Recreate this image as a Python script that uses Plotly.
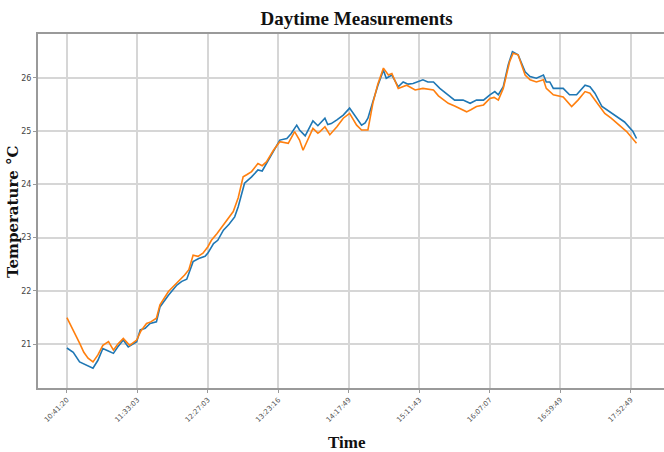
import plotly.graph_objects as go

# sample index (one sample every ~23 s; tick every 100 samples)
tick_idx = [0, 100, 200, 300, 400, 500, 600, 700, 800]
tick_labels = ["10:41:20", "11:33:03", "12:27:03", "13:23:16", "14:17:49",
               "15:11:43", "16:07:07", "16:59:49", "17:52:49"]
y_ticks = [21, 22, 23, 24, 25, 26]

blue_idx = [0, 9, 18, 28, 37, 44, 51, 58, 66, 72, 80, 87, 99, 104, 111, 118, 127, 132,
            144, 156, 163, 170, 179, 187, 196, 200, 208, 214, 222, 230, 238, 243, 252,
            262, 271, 277, 283, 293, 302, 312, 318, 326, 330, 338, 343, 349, 356, 359,
            366, 370, 375, 383, 392, 401, 411, 418, 423, 427, 434, 441, 449, 453, 461,
            470, 477, 484, 491, 498, 505, 512, 520, 529, 539, 550, 562, 572, 581, 591,
            600, 607, 612, 619, 626, 632, 640, 650, 657, 666, 676, 680, 685, 690, 704,
            713, 723, 735, 742, 749, 759, 770, 780, 791, 803, 808]
blue_val = [20.93, 20.85, 20.67, 20.60, 20.55, 20.70, 20.92, 20.88, 20.83, 20.95, 21.08,
            20.95, 21.05, 21.27, 21.30, 21.39, 21.42, 21.70, 21.92, 22.11, 22.18, 22.22,
            22.55, 22.61, 22.65, 22.71, 22.89, 22.95, 23.14, 23.25, 23.39, 23.58, 24.02,
            24.14, 24.27, 24.25, 24.39, 24.61, 24.83, 24.86, 24.95, 25.11, 25.02, 24.91,
            25.05, 25.19, 25.10, 25.14, 25.24, 25.12, 25.14, 25.21, 25.30, 25.43, 25.24,
            25.11, 25.15, 25.24, 25.55, 25.85, 26.14, 25.99, 26.05, 25.83, 25.92, 25.88,
            25.89, 25.92, 25.96, 25.92, 25.92, 25.80, 25.70, 25.58, 25.58, 25.52, 25.58,
            25.58, 25.68, 25.74, 25.68, 25.83, 26.24, 26.49, 26.43, 26.11, 26.02, 25.99,
            26.05, 25.92, 25.92, 25.80, 25.80, 25.68, 25.68, 25.86, 25.83, 25.71, 25.46,
            25.36, 25.27, 25.17, 24.99, 24.86]

orange_idx = [0, 9, 18, 24, 30, 37, 44, 51, 59, 66, 72, 80, 89, 99, 105, 113, 119, 127,
              132, 144, 158, 167, 173, 179, 186, 193, 200, 205, 213, 222, 228, 236, 243,
              250, 255, 262, 271, 277, 283, 293, 302, 308, 314, 323, 330, 335, 342, 349,
              356, 359, 366, 373, 383, 392, 401, 411, 418, 427, 434, 441, 449, 456, 461,
              470, 482, 494, 505, 520, 527, 541, 550, 557, 567, 573, 581, 591, 600, 606,
              612, 619, 628, 633, 640, 650, 657, 666, 676, 680, 690, 704, 716, 725, 735,
              742, 752, 763, 772, 783, 794, 808]
orange_val = [21.50, 21.27, 21.02, 20.85, 20.74, 20.67, 20.80, 20.98, 21.05, 20.89, 21.00,
              21.11, 20.98, 21.08, 21.25, 21.39, 21.42, 21.49, 21.74, 21.99, 22.17, 22.30,
              22.40, 22.67, 22.65, 22.71, 22.83, 22.95, 23.08, 23.24, 23.35, 23.49, 23.75,
              24.14, 24.18, 24.24, 24.39, 24.35, 24.42, 24.64, 24.80, 24.78, 24.77, 24.99,
              24.83, 24.64, 24.85, 25.05, 24.96, 24.99, 25.08, 24.93, 25.08, 25.24, 25.33,
              25.11, 25.02, 25.02, 25.52, 25.88, 26.18, 26.05, 26.08, 25.80, 25.86, 25.77,
              25.80, 25.77, 25.66, 25.52, 25.47, 25.43, 25.36, 25.40, 25.46, 25.49, 25.61,
              25.63, 25.58, 25.80, 26.30, 26.46, 26.43, 26.05, 25.96, 25.92, 25.96, 25.80,
              25.68, 25.64, 25.46, 25.58, 25.74, 25.71, 25.52, 25.33, 25.24, 25.11, 24.99,
              24.77]

fig = go.Figure()
fig.add_trace(go.Scatter(x=blue_idx, y=blue_val, mode="lines",
                         line=dict(color="#1f77b4", width=1.6), showlegend=False))
fig.add_trace(go.Scatter(x=orange_idx, y=orange_val, mode="lines",
                         line=dict(color="#ff7f0e", width=1.6), showlegend=False))

axis_common = dict(showline=True, linecolor="#9a9a9a", linewidth=2, mirror=True,
                   showgrid=True, gridcolor="#d6d6d6", gridwidth=1.5,
                   ticks="outside", ticklen=3, tickcolor="#9a9a9a", zeroline=False,
                   automargin=False)

fig.update_layout(
    width=664, height=452,
    margin=dict(l=38, r=0, t=34, b=64),
    paper_bgcolor="white", plot_bgcolor="white",
    title=dict(text="<b>Daytime Measurements</b>", x=0.537, xanchor="center",
               y=0.960, yanchor="middle", automargin=False,
               font=dict(family="Liberation Serif", size=19, color="#111")),
    xaxis=dict(range=[-41, 847], tickmode="array", tickvals=tick_idx, ticktext=tick_labels,
               tickangle=-45, tickfont=dict(family="DejaVu Sans", size=7, color="#555"),
               **axis_common),
    yaxis=dict(range=[20.18, 26.82], tickmode="array", tickvals=y_ticks,
               tickfont=dict(family="DejaVu Sans", size=8, color="#444"),
               **axis_common),
    annotations=[
        dict(text="<b>Time</b>", xref="paper", yref="paper", x=0.494, y=-0.155,
             xanchor="center", yanchor="middle", showarrow=False,
             font=dict(family="Liberation Serif", size=17, color="#111")),
        dict(text="<b>Temperature °C</b>", xref="paper", yref="paper", x=-0.040, y=0.50,
             xanchor="center", yanchor="middle", textangle=-90, showarrow=False,
             font=dict(family="DejaVu Serif", size=15, color="#111")),
    ],
)

fig.write_html("out.html", config={"displayModeBar": False},
               post_script="document.body.style.margin='0';document.body.style.overflow='hidden';")
